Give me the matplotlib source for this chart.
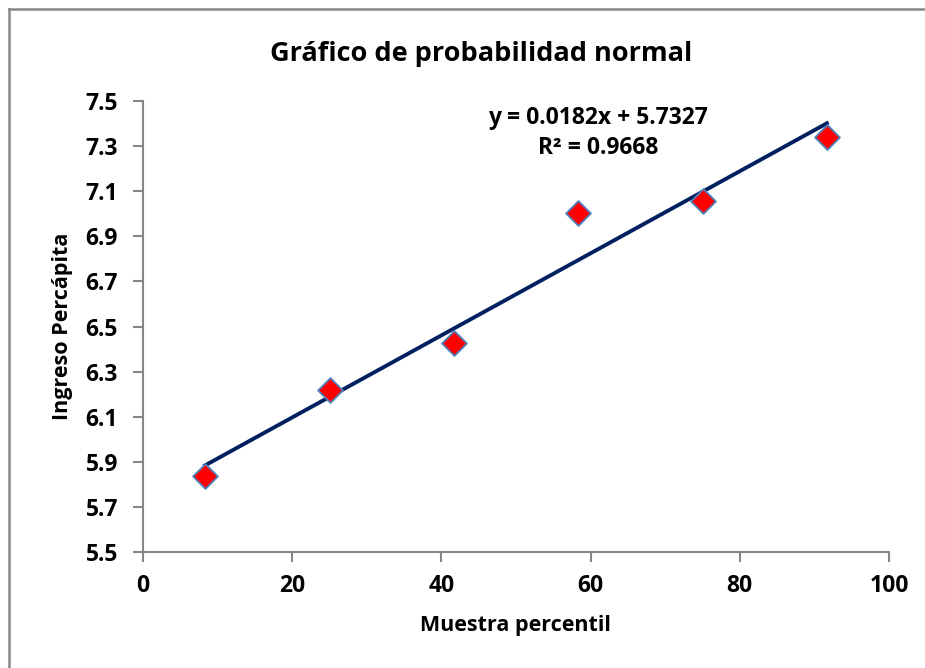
import numpy as np
import matplotlib.pyplot as plt
from matplotlib.lines import Line2D

# datos
percentil = [8.33, 25.0, 41.67, 58.33, 75.0, 91.67]
ingreso = [5.837, 6.218, 6.427, 7.003, 7.056, 7.340]
pendiente = 0.0182
intercepto = 5.7327
r2 = 0.9668
yticks = [5.5, 5.7, 5.9, 6.1, 6.3, 6.5, 6.7, 6.9, 7.1, 7.3, 7.5]
xticks = [0, 20, 40, 60, 80, 100]

plt.rcParams['font.family'] = ['Open Sans', 'DejaVu Sans']
plt.rcParams['font.weight'] = 'bold'

fig = plt.figure(figsize=(9.25, 6.68), dpi=100)
# marco exterior del grafico (solo se ve arriba e izquierda)
x0 = 8.5 / 925
y0 = 1 - 8.5 / 668
fig.lines.append(Line2D([x0, x0], [0, y0], transform=fig.transFigure, color='#868686', linewidth=1.8))
fig.lines.append(Line2D([x0, 1], [y0, y0], transform=fig.transFigure, color='#868686', linewidth=1.8))

ax = fig.add_axes([143 / 925, 116 / 668, 746 / 925, 451 / 668])

x_linea = np.array([percentil[0], percentil[-1]])
ax.plot(x_linea, pendiente * x_linea + intercepto, color='#002060', linewidth=2.8, zorder=2)
ax.scatter(percentil, ingreso, marker='D', s=160, color='#ff0000',
           edgecolor='#4f81bd', linewidth=1.3, zorder=3)

ax.set_xlim(0, 100)
ax.set_ylim(5.5, 7.5)
ax.set_xticks(xticks)
ax.set_yticks(yticks)
ax.set_yticklabels(['%.1f' % v for v in yticks])

for s in ['top', 'right']:
    ax.spines[s].set_visible(False)
for s in ['left', 'bottom']:
    ax.spines[s].set_color('#868686')
    ax.spines[s].set_linewidth(1.5)
ax.tick_params(direction='out', length=7, width=1.5, color='#868686', labelsize=16.5)
ax.tick_params(axis='y', pad=11)
ax.tick_params(axis='x', pad=9)
for lbl in ax.get_xticklabels() + ax.get_yticklabels():
    lbl.set_fontweight('bold')

ax.set_xlabel('Muestra percentil', fontsize=15.5, fontweight='bold', labelpad=12)
ax.set_ylabel('Ingreso Percápita', fontsize=15.5, fontweight='bold', labelpad=9)
fig.text(481 / 925, 1 - 54 / 668, 'Gráfico de probabilidad normal', fontsize=19.5,
         fontweight='bold', ha='center', va='center')

ax.text(0.61, 0.962, 'y = %.4fx + %.4f' % (pendiente, intercepto), transform=ax.transAxes,
        fontsize=16.5, fontweight='bold', ha='center', va='center')
ax.text(0.61, 0.895, 'R² = %.4f' % r2, transform=ax.transAxes,
        fontsize=16.5, fontweight='bold', ha='center', va='center')

fig.savefig('out.png', dpi=100)
